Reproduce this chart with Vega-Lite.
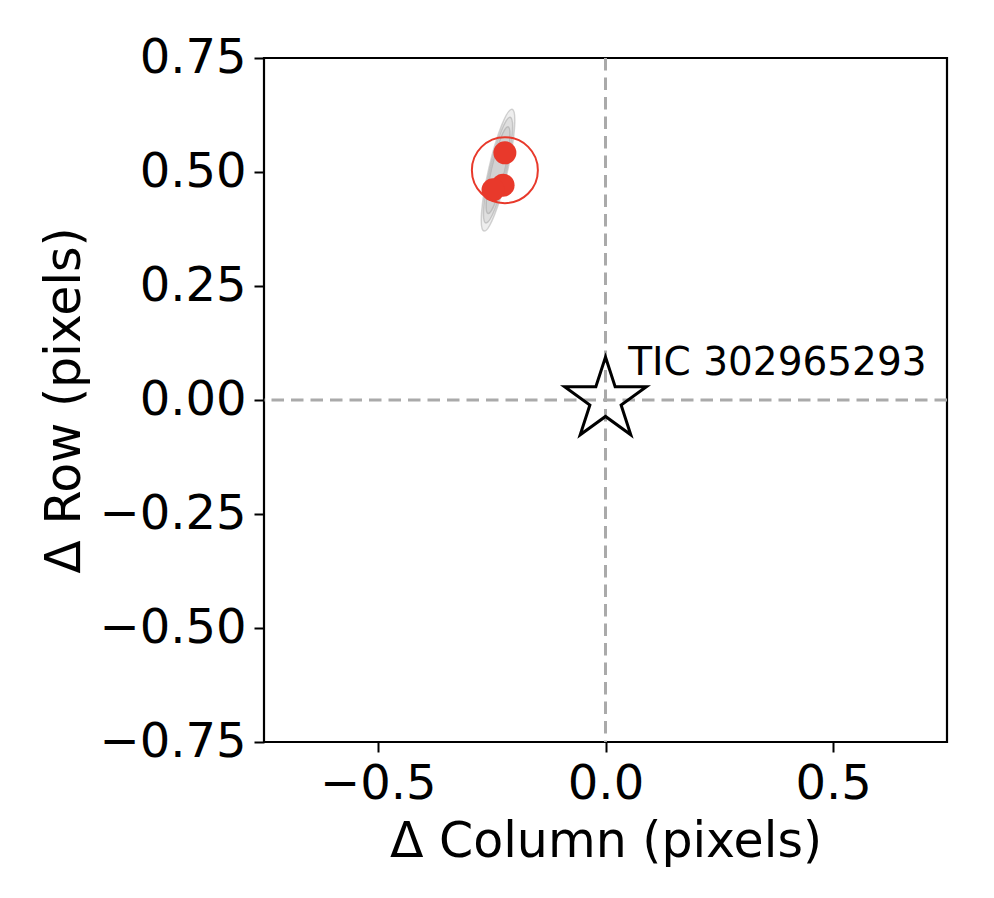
{
  "$schema": "https://vega.github.io/schema/vega-lite/v6.json",
  "autosize": {"type": "none"},
  "padding": {"left": 264, "top": 58, "right": 47, "bottom": 156},
  "width": 683,
  "height": 684,
  "background": "white",
  "config": {
    "view": {"stroke": "#000", "strokeWidth": 2.2},
    "font": "DejaVu Sans",
    "axis": {
      "labelFont": "DejaVu Sans",
      "labelFontSize": 48,
      "labelColor": "#000",
      "titleFont": "DejaVu Sans",
      "titleFontSize": 49,
      "titleFontWeight": "normal",
      "titleColor": "#000",
      "tickColor": "#000",
      "tickSize": 10,
      "tickWidth": 2,
      "domain": false,
      "grid": false,
      "labelFlush": false,
      "labelOverlap": false,
      "labelPadding": 8
    }
  },
  "datasets": {
    "ellipses": [
      {"x": -0.236, "y": 0.504, "level": 1},
      {"x": -0.236, "y": 0.504, "level": 2},
      {"x": -0.236, "y": 0.504, "level": 3}
    ],
    "dots": [
      {"x": -0.221, "y": 0.542},
      {"x": -0.225, "y": 0.471},
      {"x": -0.247, "y": 0.461}
    ],
    "circle": [{"x": -0.221, "y": 0.504}],
    "target": [{"x": 0, "y": 0, "label": "TIC 302965293"}],
    "labelpos": [{"x": 0.05, "y": 0.055, "label": "TIC 302965293"}]
  },
  "encoding": {
    "x": {
      "field": "x",
      "type": "quantitative",
      "scale": {"domain": [-0.75, 0.75], "nice": false, "zero": false},
      "axis": {"title": "Δ Column (pixels)", "values": [-0.5, 0, 0.5], "format": ".1f", "titlePadding": 9}
    },
    "y": {
      "field": "y",
      "type": "quantitative",
      "scale": {"domain": [-0.75, 0.75], "nice": false, "zero": false},
      "axis": {"title": "Δ Row (pixels)", "values": [-0.75, -0.5, -0.25, 0, 0.25, 0.5, 0.75], "format": ".2f", "titlePadding": 9}
    }
  },
  "layer": [
    {
      "data": {"name": "target"},
      "mark": {"type": "rule", "color": "#aaaaaa", "strokeWidth": 3, "strokeDash": [12.5, 7]},
      "encoding": {"x": {"datum": 0}, "y": null}
    },
    {
      "data": {"name": "target"},
      "mark": {"type": "rule", "color": "#aaaaaa", "strokeWidth": 3, "strokeDash": [12.5, 7]},
      "encoding": {"y": {"datum": 0}, "x": null}
    },
    {
      "data": {"name": "ellipses"},
      "mark": {
        "type": "point",
        "shape": "M0,-1A0.15,1,0,1,1,0,1A0.15,1,0,1,1,0,-1Z",
        "filled": true,
        "fill": "#888888",
        "fillOpacity": 0.14,
        "stroke": "#888888",
        "strokeOpacity": 0.35,
        "strokeWidth": 1.5,
        "angle": 13
      },
      "encoding": {
        "size": {"field": "level", "type": "ordinal", "scale": {"domain": [1, 2, 3], "range": [15625, 7921, 2500]}, "legend": null}
      }
    },
    {
      "data": {"name": "dots"},
      "mark": {"type": "point", "shape": "circle", "filled": true, "color": "#e8392b", "opacity": 1, "size": 530}
    },
    {
      "data": {"name": "circle"},
      "mark": {"type": "point", "shape": "circle", "filled": false, "stroke": "#e8392b", "strokeWidth": 2, "opacity": 1, "size": 4356}
    },
    {
      "data": {"name": "target"},
      "mark": {
        "type": "point",
        "shape": "M0,-1L0.2245,-0.309L0.951,-0.309L0.363,0.118L0.588,0.809L0,0.382L-0.588,0.809L-0.363,0.118L-0.951,-0.309L-0.2245,-0.309Z",
        "filled": false,
        "stroke": "#000",
        "strokeWidth": 3,
        "strokeJoin": "miter",
        "opacity": 1,
        "size": 7396
      }
    },
    {
      "data": {"name": "labelpos"},
      "mark": {"type": "text", "font": "DejaVu Sans", "fontSize": 39, "align": "left", "baseline": "alphabetic", "color": "#000"},
      "encoding": {"text": {"field": "label"}}
    }
  ]
}
